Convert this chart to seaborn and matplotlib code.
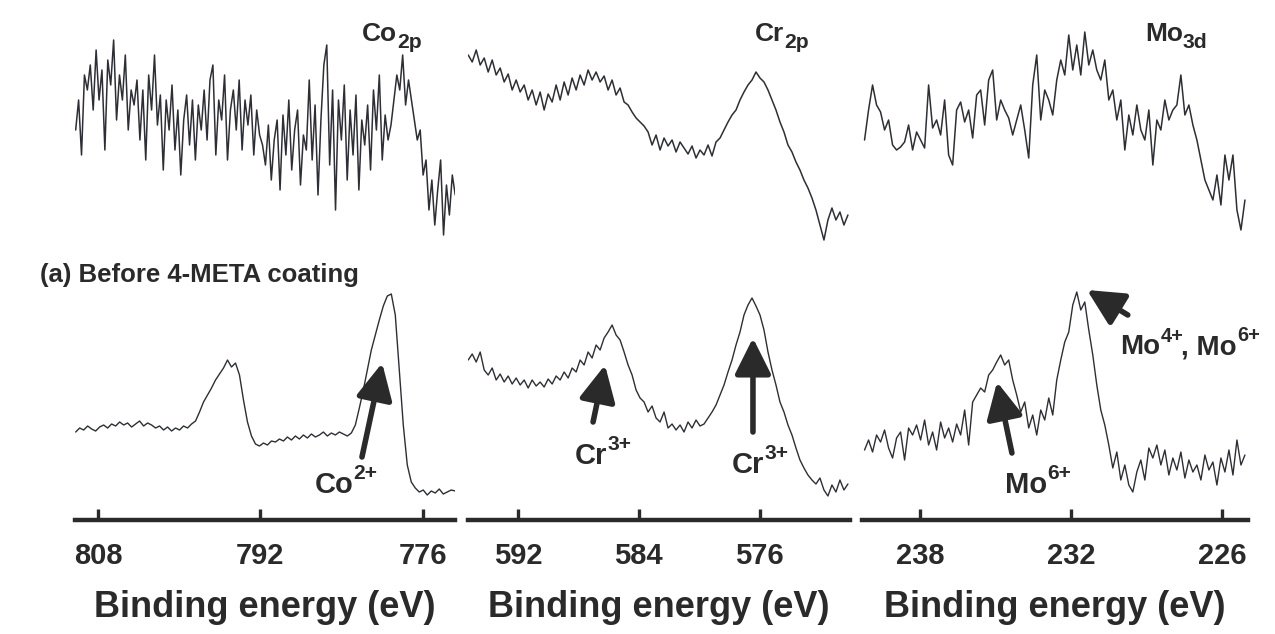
import numpy as np
import pandas as pd
import matplotlib
matplotlib.use("Agg")
import matplotlib.pyplot as plt
import seaborn as sns

# ---------------- data ----------------
co_range = (810.2, 772.8)      # binding energy span of the Co 2p scans (eV)
cr_range = (595.3, 570.15)     # Cr 2p
mo_range = (240.2, 225.1)      # Mo 3d

co_ticks = [808, 792, 776]
cr_ticks = [592, 584, 576]
mo_ticks = [238, 232, 226]

# upper (noisy) spectra, intensity a.u.
co_upper = [120, 150, 95, 175, 160, 185, 140, 200, 150, 180, 100, 190, 165, 210, 130, 175, 150, 195, 120, 160, 145,
            170, 110, 160, 90, 175, 140, 195, 125, 155, 80, 150, 120, 165, 100, 140, 75, 130, 155, 105, 150, 90,
            145, 120, 160, 110, 170, 185, 95, 150, 130, 175, 90, 140, 160, 120, 170, 100, 150, 125, 155, 95, 140, 115,
            105, 85, 125, 70, 110, 130, 60, 135, 95, 150, 80, 120, 140, 65, 115, 100, 170, 90, 145, 55, 130, 185,
            205, 85, 160, 40, 150, 110, 165, 70, 140, 95, 155, 60, 130, 105, 145, 80, 160, 120, 175, 90, 135, 110, 125,
            150, 175, 160, 195, 145, 170, 150,
            130, 110, 120, 75, 90,
            40, 70, 25, 60, 90, 15, 65, 35, 75, 55]

cr_upper = [195, 188, 200, 185, 192, 178, 190, 175, 182, 168, 176, 160, 170, 158, 165, 150, 160, 145, 158, 140,
            156, 148, 165, 150, 168, 155, 172, 160, 175, 165, 180, 170, 178, 168, 174, 160, 170, 155, 162, 148,
            145, 138, 132, 128, 124, 118, 105, 115, 100, 112, 104, 110, 98, 108, 102, 96, 104, 92, 100, 95,
            105, 94, 108, 112, 120, 128, 135, 140, 150, 158, 165, 170, 178, 172, 168, 160, 150, 140, 128, 118,
            105, 98, 88, 80, 70, 62, 52, 40, 25, 10, 30, 42, 30, 38, 25, 35]

mo_upper = [110, 140, 165, 145, 138, 120, 130, 105, 100, 103, 108, 125, 100, 118, 110, 102, 165, 122, 130, 115,
            150, 95, 85, 140, 148, 128, 140, 112, 155, 160, 125, 170, 180, 130, 150, 140, 132, 115, 130, 145,
            120, 92, 165, 195, 130, 160, 150, 135, 170, 190, 175, 215, 180, 205, 175, 218, 185, 200, 180, 170,
            190, 150, 160, 130, 150, 100, 135, 115, 145, 120, 110, 140, 85, 130, 120, 150, 130, 140, 145, 175,
            135, 145, 125, 110, 90, 70, 60, 50, 75, 45, 95, 70, 95, 40, 20, 50]

# lower spectra (with chemical-state peaks), intensity a.u.
co_lower = [88, 92, 90, 94, 91, 89, 93, 95, 92, 96, 94, 98, 95, 97, 93, 96, 99, 94, 97, 95, 92, 94, 90, 93, 89,
            92, 90, 94, 92, 96, 99,
            108, 118, 125, 132, 140, 146, 152, 160, 153, 157, 145, 120, 98, 84, 76, 74,
            77, 75, 79, 78, 81, 79, 83, 80, 84, 81, 85, 82, 86, 83, 85, 88, 84, 87, 85, 88, 86, 84, 87,
            95, 112, 130, 150, 170, 185, 200, 214, 224, 226, 205, 150, 95, 55, 38, 32,
            28, 30, 25, 29, 27, 31, 26, 28, 30, 29]

cr_lower = [160, 166, 158, 168, 150, 145, 152, 140, 146, 138, 144, 136, 142, 135, 140, 132, 140, 134, 138, 133,
            141, 136, 144, 140, 148, 142, 152, 148, 160, 155, 168, 162, 175, 170, 182, 188, 195, 185, 180, 168,
            155, 145, 130, 122, 118, 108, 114, 102, 98, 108, 92, 96, 90, 95, 88, 98, 92, 100, 94, 96,
            102, 108, 115, 125, 135, 148, 160, 175, 188, 205, 215, 222, 214, 205, 190, 168, 150, 135, 118, 108,
            95, 85, 72, 60, 52, 45, 40, 36, 42, 30, 24, 35, 28, 40, 30, 36]

mo_lower = [70, 80, 68, 85, 78, 90, 72, 62, 82, 88, 60, 92, 85, 95, 80, 100, 75, 88, 70, 98,
            82, 92, 78, 96, 85, 110, 75, 118, 125, 132, 128, 145, 150, 158, 165, 155, 160, 140, 125, 108,
            118, 92, 105, 85, 110, 100, 122, 105, 140, 160, 178, 188, 215, 228, 210, 218, 190, 165, 135, 110,
            95, 75, 52, 68, 40, 55, 35, 28, 48, 60, 40, 72, 62, 75, 55, 70, 45, 62, 50, 68,
            42, 60, 48, 55, 40, 65, 50, 58, 35, 62, 48, 70, 45, 80, 55, 65]

# ---------------- style ----------------
sns.set_theme(style="white")
plt.rcParams['font.family'] = ['Liberation Sans', 'DejaVu Sans']

LINE = '#2e2f36'
INK = '#2a2a2a'
STACK = 270  # vertical offset for the upper spectrum

fig = plt.figure(figsize=(12.75, 6.34), dpi=100)

panels = [
    dict(rng=co_range, xlim=(810.27, 772.83), ticks=co_ticks, up=co_upper, low=co_lower,
         pos=[0.0588, 0.1798, 0.2980, 0.8202], title=("Co", "2p"), title_x=782.0),
    dict(rng=cr_range, xlim=(595.31, 570.01), ticks=cr_ticks, up=cr_upper, low=cr_lower,
         pos=[0.3671, 0.1798, 0.2996, 0.8202], title=("Cr", "2p"), title_x=576.3),
    dict(rng=mo_range, xlim=(240.30, 224.98), ticks=mo_ticks, up=mo_upper, low=mo_lower,
         pos=[0.6761, 0.1798, 0.3027, 0.8202], title=("Mo", "3d"), title_x=229.07),
]


def label(ax, x, y, base, script, size, sup=True, scale=0.72):
    """Bold label with a super/subscript attached to its right edge."""
    t = ax.text(x, y, base, fontsize=size, fontweight='bold', ha='left', va='center', color=INK)
    ax.annotate(script, xy=(1.0, 0.9 if sup else 0.15), xycoords=t, fontsize=size * scale,
                fontweight='bold', ha='left', va='center', color=INK)
    return t


axes = []
for p in panels:
    ax = fig.add_axes(p['pos'])
    e_up = np.linspace(p['rng'][0], p['rng'][1], len(p['up']))
    e_low = np.linspace(p['rng'][0], p['rng'][1], len(p['low']))
    df_up = pd.DataFrame({'E': e_up, 'I': np.array(p['up']) + STACK})
    df_low = pd.DataFrame({'E': e_low, 'I': p['low']})
    sns.lineplot(data=df_up, x='E', y='I', ax=ax, color=LINE, lw=1.1, estimator=None)
    sns.lineplot(data=df_low, x='E', y='I', ax=ax, color=LINE, lw=1.0, estimator=None)
    ax.set_xlim(*p['xlim'])
    ax.set_ylim(0, 520)
    ax.set_xticks(p['ticks'])
    ax.set_xticklabels([str(t) for t in p['ticks']], fontweight='bold')
    ax.set_yticks([])
    ax.set_ylabel('')
    ax.set_xlabel('Binding energy (eV)', fontsize=26, fontweight='bold', labelpad=14, color=INK)
    ax.tick_params(axis='x', direction='in', length=8, width=2.4, pad=16,
                   labelsize=21, colors=INK, bottom=True)
    for s in ['top', 'left', 'right']:
        ax.spines[s].set_visible(False)
    ax.spines['bottom'].set_linewidth(3.2)
    ax.spines['bottom'].set_color(INK)
    ax.patch.set_alpha(0)
    label(ax, p['title_x'], 486, p['title'][0], p['title'][1], 19, sup=False, scale=0.8)
    axes.append(ax)

arrow_kw = dict(arrowstyle='-|>,head_length=1.1,head_width=0.55', lw=4, color=INK,
                shrinkA=0, shrinkB=0, mutation_scale=20)


def pointer(ax, tail, tip):
    ax.annotate('', xy=tip, xytext=tail, arrowprops=arrow_kw)


# Co
pointer(axes[0], (781.99, 63), (780.0, 157))
label(axes[0], 786.62, 35, "Co", "2+", 21)
# Cr
pointer(axes[1], (587.03, 98), (586.24, 155))
label(axes[1], 588.23, 64, "Cr", "3+", 21)
pointer(axes[1], (576.44, 88), (576.44, 182))
label(axes[1], 577.83, 55, "Cr", "3+", 21)
# Mo
pointer(axes[2], (234.35, 67), (234.94, 138))
label(axes[2], 234.63, 35, "Mo", "6+", 21)
pointer(axes[2], (229.75, 205), (231.37, 230))
t1 = label(axes[2], 230.05, 173, "Mo", "4+", 20)
axes[2].annotate(", Mo", xy=(1.0, 0.5), xycoords=t1, xytext=(15, 0), textcoords='offset points',
                 fontsize=20, fontweight='bold', ha='left', va='center', color=INK)
axes[2].annotate("6+", xy=(1.0, 0.5), xycoords=t1, xytext=(55, 8), textcoords='offset points',
                 fontsize=20 * 0.72, fontweight='bold', ha='left', va='center', color=INK)

fig.text(40 / 1275, 1 - 275 / 634, "(a) Before 4-META coating", fontsize=18.5, fontweight='bold',
         ha='left', va='center', color=INK)

fig.savefig('out.png', dpi=100)
